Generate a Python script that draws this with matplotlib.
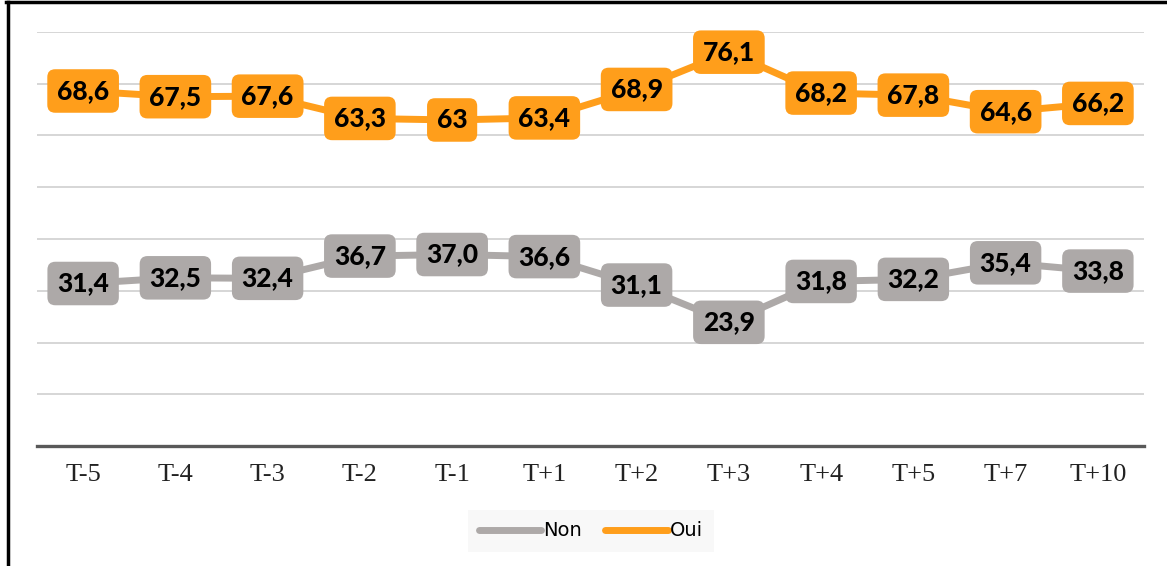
import matplotlib
matplotlib.use("Agg")
import matplotlib.pyplot as plt
from matplotlib.lines import Line2D

categories = ["T-5", "T-4", "T-3", "T-2", "T-1", "T+1", "T+2", "T+3", "T+4", "T+5", "T+7", "T+10"]
non_values = [31.4, 32.5, 32.4, 36.7, 37.0, 36.6, 31.1, 23.9, 31.8, 32.2, 35.4, 33.8]
non_labels = ["31,4", "32,5", "32,4", "36,7", "37,0", "36,6", "31,1", "23,9", "31,8", "32,2", "35,4", "33,8"]
oui_values = [68.6, 67.5, 67.6, 63.3, 63.0, 63.4, 68.9, 76.1, 68.2, 67.8, 64.6, 66.2]
oui_labels = ["68,6", "67,5", "67,6", "63,3", "63", "63,4", "68,9", "76,1", "68,2", "67,8", "64,6", "66,2"]

grey = "#ADA9A8"
orange = "#FF9E1B"

fig = plt.figure(figsize=(11.67, 5.66), dpi=100)
ax = fig.add_axes([37/1167, 1-446/566, (1144-37)/1167, (446-32)/566])

x = list(range(len(categories)))
ax.set_xlim(-0.5, len(categories) - 0.5)
ax.set_ylim(0, 80)
ax.set_yticks(range(10, 81, 10))
ax.yaxis.grid(True, color="#CFCFCF", linewidth=1.2)
ax.set_axisbelow(True)
ax.tick_params(axis="y", length=0, labelleft=False)
ax.tick_params(axis="x", length=0, pad=13)
for s in ["left", "right", "top"]:
    ax.spines[s].set_visible(False)
ax.spines["bottom"].set_color("#595959")
ax.spines["bottom"].set_linewidth(2.4)
ax.set_xticks(x)
ax.set_xticklabels(categories, fontfamily="Liberation Serif", fontsize=19, color="#222222")

ax.plot(x, non_values, color=grey, linewidth=5, solid_capstyle="round", label="Non", zorder=3)
ax.plot(x, oui_values, color=orange, linewidth=5, solid_capstyle="round", label="Oui", zorder=3)

for xi, v, lab in zip(x, non_values, non_labels):
    ax.text(xi, v, lab, ha="center", va="center", fontsize=19, fontweight="black",
            fontfamily="Lato", color="black", zorder=5,
            bbox=dict(boxstyle="round,pad=0.37,rounding_size=0.3", fc=grey, ec="none"))
for xi, v, lab in zip(x, oui_values, oui_labels):
    ax.text(xi, v, lab, ha="center", va="center", fontsize=19, fontweight="black",
            fontfamily="Lato", color="black", zorder=5,
            bbox=dict(boxstyle="round,pad=0.37,rounding_size=0.3", fc=orange, ec="none"))

leg = fig.legend(handles=[Line2D([0], [0], color=grey, lw=5, solid_capstyle="round"),
                          Line2D([0], [0], color=orange, lw=5, solid_capstyle="round")],
                 labels=["Non", "Oui"], loc="center", bbox_to_anchor=(591/1167, 1-531/566),
                 ncol=2, frameon=True, fontsize=14, handlelength=3.2, handletextpad=0.1,
                 columnspacing=1.2, borderpad=0.6, fancybox=False)
leg.get_frame().set_facecolor("#F7F7F7")
leg.get_frame().set_edgecolor("none")

# figure frame (left and top edges)
fig.add_artist(Line2D([7.5/1167, 7.5/1167], [0, 1-1.5/566], transform=fig.transFigure,
                      color="black", linewidth=2.5))
fig.add_artist(Line2D([6.3/1167, 1], [1-1.5/566, 1-1.5/566], transform=fig.transFigure,
                      color="black", linewidth=2.5))

fig.savefig("out.png", dpi=100, facecolor="white")
